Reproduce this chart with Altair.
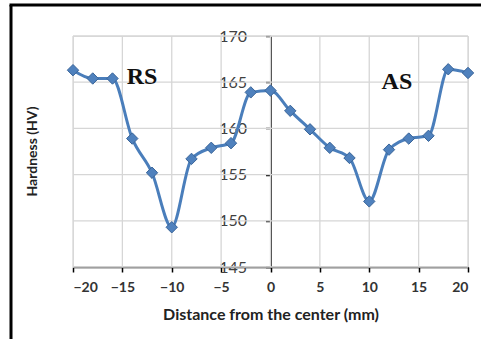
import altair as alt
import pandas as pd

distance = [-20, -18, -16, -14, -12, -10, -8, -6, -4, -2, 0, 2, 4, 6, 8, 10, 12, 14, 16, 18, 20]
hardness = [166.3, 165.4, 165.4, 158.9, 155.2, 149.3, 156.7, 157.9, 158.4, 163.9, 164.1,
            161.9, 159.9, 157.9, 156.8, 152.1, 157.7, 158.9, 159.2, 166.4, 166.0]
x_ticks = [-20, -15, -10, -5, 0, 5, 10, 15, 20]
y_ticks = [145, 150, 155, 160, 165, 170]
labels = ["RS", "AS"]
label_x = [-13, 12.8]
label_y = [165.6, 165.0]

df = pd.DataFrame({"d": distance, "h": hardness})
lab = pd.DataFrame({"t": labels, "x": label_x, "y": label_y})
gx = pd.DataFrame({"d": x_ticks})
gy = pd.DataFrame({"h": y_ticks})

W, H = 395, 231

xs = alt.Scale(domain=[-20, 20], nice=False, zero=False)
ys = alt.Scale(domain=[145, 170], nice=False, zero=False)

x_axis = alt.Axis(
    values=x_ticks, title="Distance from the center (mm)",
    labelFont="Lato", labelFontWeight="bold", labelFontSize=14, labelColor="#333333",
    titleFont="Lato", titleFontWeight="bold", titleFontSize=16, titleColor="#222222",
    titlePadding=12, labelPadding=8, tickSize=5, tickColor="black", domainColor="black",
    domainWidth=1.5, tickWidth=1.5, grid=False)
y_axis = alt.Axis(
    values=y_ticks, title=None, offset=-W / 2,
    labelFont="Lato", labelFontSize=16, labelColor="#404040", labelPadding=19,
    tickSize=5, tickColor="black", domainColor="black", domainWidth=1.5, tickWidth=1.5,
    grid=False)

X = alt.X("d:Q", scale=xs, axis=x_axis, title="Distance from the center (mm)")
Y = alt.Y("h:Q", scale=ys, axis=y_axis, title=None)

vgrid = alt.Chart(gx).mark_rule(color="#D6D6D6", strokeWidth=1.3).encode(x=X)
hgrid = alt.Chart(gy).mark_rule(color="#D6D6D6", strokeWidth=1.3).encode(y=Y)
line = alt.Chart(df).mark_line(color="#4A7EBB", strokeWidth=3, interpolate="monotone").encode(x=X, y=Y)
pts = alt.Chart(df).mark_point(shape="diamond", filled=True, size=130, color="#4F81BD",
                               stroke="#3A6599", strokeWidth=1, opacity=1).encode(x=X, y=Y)
txt = alt.Chart(lab).mark_text(font="Liberation Serif", fontWeight="bold", fontSize=24,
                               color="#111111").encode(
    x=alt.X("x:Q", scale=xs, axis=x_axis, title="Distance from the center (mm)"),
    y=alt.Y("y:Q", scale=ys, axis=y_axis, title=None), text="t:N")
ytitle = alt.Chart(pd.DataFrame({"t": ["Hardness (HV)"]})).mark_text(
    font="Lato", fontWeight="bold", fontSize=14, angle=270, color="#222222"
).encode(x=alt.value(-40), y=alt.value(H / 2), text="t:N")
frame_left = alt.Chart(pd.DataFrame({"a": [0]})).mark_rule(color="black", strokeWidth=3).encode(
    x=alt.value(-62), y=alt.value(-31), y2=alt.value(310))
frame_top = alt.Chart(pd.DataFrame({"a": [0]})).mark_rule(color="black", strokeWidth=3).encode(
    x=alt.value(-63.5), x2=alt.value(420), y=alt.value(-31))

chart = alt.layer(vgrid, hgrid, line, pts, txt, ytitle, frame_left, frame_top).properties(
    width=W, height=H,
    autosize=alt.AutoSizeParams(type="none"),
    padding={"left": 73, "top": 36, "right": 13, "bottom": 72},
).configure_view(stroke="#D0D0D0").configure(background="white")

chart.save("out.html", embed_options={"renderer": "svg", "actions": False})
